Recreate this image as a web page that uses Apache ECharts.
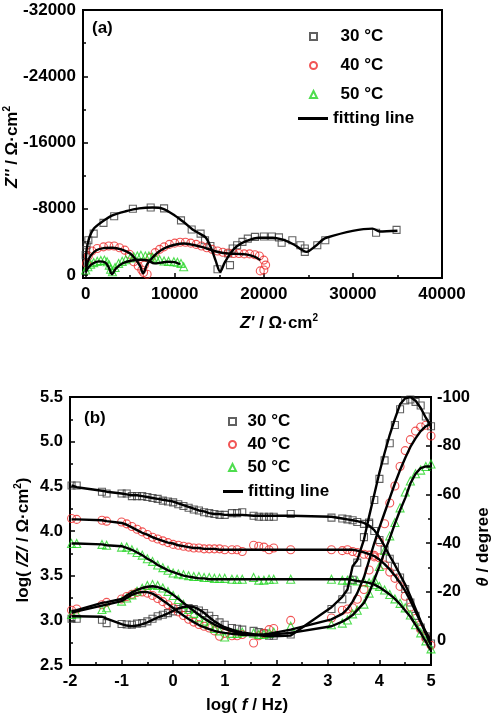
<!DOCTYPE html>
<html><head><meta charset="utf-8">
<script src="https://cdn.jsdelivr.net/npm/echarts@6/dist/echarts.min.js"></script>
<style>html,body{margin:0;padding:0;background:#fff}#c{width:496px;height:716px}</style>
</head><body><div id="c"></div>
<script>
// ---------- Panel (a): Nyquist ----------
const re30 = [0, 50, 100, 300, 900, 2000, 3200, 5300, 7300, 8800, 10700, 11900, 12900, 13400, 14000, 14800, 16200, 16000, 16500, 17000, 17600, 18200, 19000, 20000, 20900, 21700, 22000, 23200, 24100, 24600, 24600, 26000, 26900, 32600, 34900];
const im30 = [-2400, -3000, -3600, -4200, -5000, -6300, -7100, -8000, -8150, -8050, -6600, -5500, -5000, -4200, -3500, -700, -1200, -2600, -3200, -3600, -4000, -4400, -4600, -4650, -4650, -4550, -3900, -4200, -3600, -3200, -2800, -3600, -4200, -5100, -5450];
const fitRe30 = [0, 100, 400, 900, 1800, 3000, 4500, 6000, 7500, 8700, 10000, 11000, 12000, 12800, 13500, 14100, 14600, 15100, 15600, 16300, 17000, 18000, 19500, 21000, 22300, 23500, 24800, 25800, 27000, 32200, 33000, 35000];
const fitIm30 = [-1000, -3000, -4500, -5600, -6400, -7200, -7700, -8050, -8150, -8000, -7200, -6400, -5500, -5000, -4500, -3200, -1700, -400, -1500, -2700, -3500, -4100, -4500, -4500, -4200, -3600, -2800, -3500, -4500, -5600, -5250, -5350];

const re40 = [100, 300, 700, 1300, 2000, 2600, 3200, 3800, 4400, 4900, 5400, 5900, 6300, 6500, 6900, 6600, 7300, 7800, 8300, 8800, 9400, 10000, 10600, 11200, 11800, 12400, 13000, 13600, 14200, 14800, 15400, 16000, 16600, 17200, 17800, 18400, 19000, 19500, 20000, 20200, 20000, 19600];
const im40 = [-1400, -2300, -2900, -3200, -3400, -3500, -3500, -3300, -3000, -2500, -1600, -1100, -600, -300, -100, -1200, -2100, -2700, -3100, -3400, -3700, -3850, -3950, -3950, -3850, -3700, -3500, -3300, -3100, -2900, -2750, -2650, -2600, -2600, -2550, -2550, -2450, -2300, -1800, -1200, -600, -500];
const fitRe40 = [0, 200, 600, 1200, 2000, 3000, 4000, 5000, 5600, 6100, 6450, 6900, 7500, 8200, 9000, 10000, 11000, 12000, 13000, 14000, 15000, 16000, 17000, 18000, 19000, 19600];
const fitIm40 = [-300, -1500, -2400, -3000, -3250, -3300, -3100, -2600, -1900, -1100, -200, -1300, -2100, -2800, -3300, -3650, -3800, -3650, -3400, -3050, -2750, -2600, -2550, -2500, -2200, -1800];

const re50 = [0, 250, 550, 900, 1300, 1700, 2100, 2400, 2650, 2800, 3000, 3300, 3700, 4100, 4500, 5000, 5400, 5800, 6200, 6700, 7100, 7500, 7900, 8300, 8800, 9300, 9900, 10300, 10700, 11000];
const im50 = [-600, -1000, -1300, -1500, -1650, -1750, -1800, -1600, -1200, -700, -400, -900, -1400, -1650, -1850, -2050, -2200, -2300, -2400, -2300, -2300, -2150, -2000, -1850, -1700, -1650, -1600, -1550, -1400, -1000];
const fitRe50 = [0, 300, 800, 1500, 2200, 2600, 2950, 3400, 4200, 5200, 6200, 7000, 7700, 8500, 9200, 10000, 10600];
const fitIm50 = [-300, -900, -1400, -1650, -1500, -900, -100, -800, -1450, -1750, -1850, -1750, -1400, -1500, -1600, -1550, -1300];

const xTicksA = [0, 10000, 20000, 30000, 40000];
const xMinorA = [5000, 15000, 25000, 35000];
const yTicksA = [-32000, -24000, -16000, -8000, 0];
const yMinorA = [-28000, -20000, -12000, -4000];

// ---------- Panel (b): Bode ----------
const logF = [-1.97,-1.87,-1.38,-1.29,-1.0,-0.9,-0.8,-0.7,-0.6,-0.5,-0.4,-0.3,-0.2,-0.1,0.0,0.1,0.2,0.3,0.4,0.5,0.6,0.7,0.8,0.9,1.0,1.14,1.24,1.34,1.56,1.66,1.76,1.86,1.95,2.28,3.07,3.28,3.38,3.48,3.57,3.70,3.80,3.90,4.0,4.1,4.2,4.3,4.4,4.5,4.6,4.7,4.8,4.9,5.0];

const logZ30 = [4.51,4.51,4.44,4.42,4.42, 4.42,4.39,4.39,4.39,4.38,4.37,4.36,4.34,4.33,4.32, 4.30,4.28,4.26,4.24,4.23,4.21,4.20,4.19,4.18,4.18, 4.20,4.20,4.21, 4.17,4.16,4.16,4.16,4.16, 4.19, 4.15,4.14,4.13,4.12,4.10, 4.08,4.08,4.00, 3.90,3.79,3.69,3.60,3.48,3.35,3.20,3.05,2.92,2.82,2.74];
const theta30 = [-9.0,-9.0,-8.6,-7.2,-6.8, -6.6,-6.5,-7.0,-7.2,-7.9,-9.0,-10.0,-10.6,-11.3,-12.0, -13.0,-13.4,-13.4,-13.0,-12.4,-11.3,-10.2,-8.9,-7.5,-6.5, -5.2,-4.9,-4.5, -4.0,-3.5,-3.0,-2.0,-2.0, -2.5, -13.0,-17.0,-21.0,-25.0,-32.0, -42.5,-48.5,-57.7, -66.4,-74.0,-81.0,-88.5,-95.0,-98.6,-99.0,-98.0,-96.5,-92.0,-88.0];
const fitLogZ30 = [4.51,4.49,4.45,4.44,4.42, 4.41,4.40,4.40,4.39,4.38,4.37,4.36,4.35,4.34,4.33, 4.31,4.29,4.27,4.25,4.23,4.22,4.20,4.19,4.19,4.18, 4.18,4.18,4.18, 4.17,4.17,4.17,4.17,4.17, 4.17, 4.16,4.14,4.13,4.12,4.11, 4.09,4.06,4.01, 3.93,3.83,3.72,3.62,3.51,3.40,3.27,3.13,2.99,2.87,2.77];
const fitTheta30 = [-10.0,-10.0,-9.8,-9.0,-6.8, -6.2,-5.9,-6.2,-6.8,-7.5,-8.5,-9.5,-10.3,-11.2,-12.2, -13.2,-13.8,-14.1,-13.8,-12.8,-11.4,-9.6,-7.9,-6.6,-5.5, -4.5,-3.9,-3.4, -2.6,-2.3,-2.0,-1.8,-1.8, -2.1, -13.7,-18.0,-21.0,-30.5,-33.0, -41.5,-51.0,-60.0, -69.0,-77.0,-84.5,-91.0,-97.0,-99.5,-100.0,-98.5,-95.5,-91.5,-88.0];

const logZ40 = [4.14,4.13,4.12,4.11,4.10, 4.08,4.05,4.02,3.99,3.96,3.93,3.91,3.89,3.87,3.85, 3.84,3.83,3.82,3.81,3.81,3.80,3.80,3.80,3.80,3.79, 3.79,3.79,3.77, 3.84,3.83,3.82,3.79,3.81, 3.79, 3.79,3.78,3.79,3.77,3.76, 3.74,3.73,3.71, 3.70,3.62,3.54,3.47,3.38,3.27,3.15,3.02,2.90,2.80,2.72];
const theta40 = [-12.5,-13.0,-14.7,-15.7,-17.1, -18.1,-19.0,-19.8,-20.0,-19.5,-18.5,-17.3,-16.0,-14.7,-13.4, -11.8,-10.3,-8.8,-7.6,-6.6,-5.9,-5.2,-4.0,-1.8,-3.0, -2.0,-2.0,-2.5, 1.0,-2.0,-3.0,-4.5,-5.0, -8.3, -9.3,-12.5,-13.0,-13.5,-17.0, -21.0,-29.0,-35.0, -40.5,-48.0,-56.5,-63.5,-71.5,-78.0,-82.5,-86.0,-87.7,-88.4,-84.0];
const fitLogZ40 = [4.13,4.13,4.12,4.11,4.09, 4.07,4.04,4.01,3.98,3.96,3.93,3.91,3.89,3.87,3.86, 3.84,3.83,3.82,3.81,3.81,3.80,3.80,3.80,3.79,3.79, 3.79,3.79,3.79, 3.79,3.79,3.79,3.79,3.79, 3.79, 3.79,3.79,3.79,3.79,3.78, 3.76,3.74,3.72, 3.68,3.63,3.57,3.50,3.42,3.33,3.22,3.10,2.98,2.85,2.72];
const fitTheta40 = [-11.4,-12.0,-14.4,-14.8,-16.2, -17.5,-18.8,-19.6,-20.0,-19.9,-19.3,-18.0,-16.5,-15.0,-13.4, -11.8,-10.3,-8.9,-7.6,-6.4,-5.5,-4.7,-4.0,-3.5,-3.2, -2.8,-2.6,-2.4, -2.2,-2.3,-2.5,-2.8,-3.2, -4.5, -8.7,-11.0,-13.0,-16.0,-19.5, -26.0,-33.0,-40.0, -46.5,-52.5,-58.5,-64.5,-70.0,-75.0,-79.5,-83.0,-86.0,-88.0,-89.0];

const logZ50 = [3.86,3.86,3.85,3.84,3.82, 3.82,3.79,3.76,3.73,3.69,3.66,3.62,3.59,3.56,3.53, 3.52,3.51,3.50,3.49,3.49,3.48,3.48,3.47,3.47,3.47, 3.46,3.46,3.46, 3.48,3.45,3.45,3.46,3.46, 3.46, 3.46,3.45,3.45,3.45,3.44, 3.43,3.42,3.40, 3.38,3.34,3.29,3.24,3.19,3.14,3.06,2.95,2.86,2.77,2.68];
const theta50 = [-10.7,-11.0,-12.8,-13.5,-16.2, -17.5,-18.8,-20.3,-21.5,-22.6,-23.0,-22.6,-21.6,-20.2,-18.5, -16.9,-14.9,-12.8,-11.2,-9.4,-8.0,-6.5,-5.0,-4.0,-1.5, -3.0,-3.0,-3.5, -3.1,-2.5,-2.5,-3.0,-3.5, -5.9, -6.5,-7.2,-8.5,-11.0,-12.5, -15.0,-19.5,-25.0, -30.5,-37.0,-43.0,-48.5,-54.5,-61.0,-65.5,-68.5,-70.0,-71.5,-72.5];
const fitLogZ50 = [3.86,3.86,3.85,3.84,3.83, 3.81,3.79,3.76,3.73,3.69,3.66,3.62,3.59,3.56,3.54, 3.52,3.50,3.49,3.48,3.47,3.47,3.46,3.46,3.46,3.46, 3.46,3.46,3.46, 3.46,3.46,3.46,3.46,3.46, 3.46, 3.46,3.46,3.46,3.45,3.44, 3.43,3.42,3.40, 3.37,3.33,3.29,3.24,3.18,3.11,3.04,2.95,2.86,2.76,2.66];
const fitTheta50 = [-12.1,-12.5,-15.5,-15.8,-17.1, -18.5,-19.8,-20.8,-21.6,-22.1,-22.3,-22.0,-21.3,-20.2,-18.8, -17.2,-15.5,-13.8,-12.2,-10.6,-9.1,-7.8,-6.6,-5.6,-4.8, -3.9,-3.4,-3.0, -2.5,-2.4,-2.4,-2.5,-2.6, -3.2, -5.9,-7.8,-9.0,-10.5,-12.5, -15.5,-19.6,-25.0, -30.5,-36.5,-42.0,-48.0,-53.5,-58.5,-64.5,-68.5,-70.8,-71.5,-71.5];

const names = ['30 °C', '40 °C', '50 °C'];
const fitName = 'fitting line';

// ---------- styling ----------
const FONT = '"Liberation Sans", Arial, sans-serif';
const pair = (xs, ys) => xs.map((x, i) => [x, ys[i]]);
const markers = [
  {symbol: 'rect', icon: 'path://M0,0L10,0L10,10L0,10Z', size: 7, color: '#3a3a3a'},
  {symbol: 'circle', icon: 'circle', size: 8, color: '#ee2a2a'},
  {symbol: 'triangle', icon: 'path://M5,0L10,10L0,10Z', size: 8, color: '#22d422'}
];
const lblA = {color: '#000', fontSize: 17, fontWeight: 'bold', fontFamily: FONT};
const lblB = {color: '#000', fontSize: 16.5, fontWeight: 'bold', fontFamily: FONT};
const richBase = {
  i: {fontStyle: 'italic', fontWeight: 'bold', fontSize: 17, fontFamily: FONT, color: '#000'},
  n: {fontWeight: 'bold', fontSize: 17, fontFamily: FONT, color: '#000'},
  sup: {fontWeight: 'bold', fontSize: 10, fontFamily: FONT, color: '#000', verticalAlign: 'top', padding: [0, 0, 9, 0]},
  g6: {width: 6}, g7: {width: 7}, g18: {width: 18}, g32: {width: 32}, g33: {width: 33}
};
const nameStyle = () => ({fontSize: 17, fontWeight: 'bold', fontFamily: FONT, color: '#000', rich: richBase,
  align: 'center', verticalAlign: 'middle'});
const axLine = {show: true, onZero: false, lineStyle: {color: '#000', width: 2}};
const legText = {fontSize: 17, fontWeight: 'bold', fontFamily: FONT, color: '#000'};
const scatterLegend = () => names.map((n, k) => ({name: n, icon: markers[k].icon}));

function scatter(k, data, xi, yi) {
  const m = markers[k];
  return {type: 'scatter', name: names[k], xAxisIndex: xi, yAxisIndex: yi, data: data,
    symbol: m.symbol, symbolSize: m.size, z: 2,
    itemStyle: {color: 'rgba(255,255,255,0)', borderColor: m.color, borderWidth: 1.1}};
}
function fit(data, xi, yi, smooth) {
  return {type: 'line', name: fitName, xAxisIndex: xi, yAxisIndex: yi, data: data,
    symbol: 'none', showSymbol: false, smooth: smooth || false, z: 3,
    lineStyle: {color: '#000', width: 2.4}, itemStyle: {color: '#000'}};
}

const chart = echarts.init(document.getElementById('c'), null, {renderer: 'canvas'});
chart.setOption({
  animation: false,
  backgroundColor: '#fff',
  title: [
    {text: '(a)', left: 92, top: 20, padding: 0, textStyle: {fontSize: 17, fontWeight: 'bold', fontFamily: FONT, color: '#000'}},
    {text: '(b)', left: 84, top: 410, padding: 0, textStyle: {fontSize: 17, fontWeight: 'bold', fontFamily: FONT, color: '#000'}}
  ],
  grid: [
    {left: 83, top: 10, width: 359, height: 268, show: true, borderColor: '#000', borderWidth: 2, backgroundColor: 'transparent', outerBoundsMode: 'none', containLabel: false},
    {left: 70, top: 397, width: 361, height: 268, show: true, borderColor: '#000', borderWidth: 2, backgroundColor: 'transparent', outerBoundsMode: 'none', containLabel: false}
  ],
  legend: [
    {left: 309, top: 28, padding: 0, orient: 'vertical', itemWidth: 44, itemHeight: 7, itemGap: 12, symbolKeepAspect: true,
     data: scatterLegend(), textStyle: legText, selectedMode: false},
    {left: 298, top: 110, padding: 0, orient: 'vertical', itemWidth: 30, itemHeight: 3,
     data: [{name: fitName, icon: 'rect'}], textStyle: legText, selectedMode: false},
    {left: 228, top: 413, padding: 0, orient: 'vertical', itemWidth: 20, itemHeight: 7, itemGap: 6, symbolKeepAspect: true,
     data: scatterLegend(), textStyle: legText, selectedMode: false},
    {left: 223, top: 483, padding: 0, orient: 'vertical', itemWidth: 20, itemHeight: 3,
     data: [{name: fitName, icon: 'rect'}], textStyle: legText, selectedMode: false}
  ],
  xAxis: [
    {gridIndex: 0, type: 'value', min: -300, max: 40000, position: 'bottom', axisLine: axLine,
     axisTick: {show: true, inside: true, length: 5, lineStyle: {color: '#000', width: 1.5}, customValues: xTicksA},
     axisLabel: Object.assign({customValues: xTicksA, margin: 8, formatter: v => String(v)}, lblA),
     splitLine: {show: false},
     name: '{g33|}{i|Z\'} {n|/ Ω·cm}{sup|2}', nameLocation: 'middle', nameGap: 45, nameMoveOverlap: false, nameTextStyle: nameStyle()},
    {gridIndex: 0, type: 'value', min: -300, max: 40000, position: 'bottom', axisLine: {show: false, onZero: false},
     axisTick: {show: true, inside: true, length: 3, lineStyle: {color: '#000', width: 1.5}, customValues: xMinorA},
     axisLabel: {show: false}, splitLine: {show: false}},
    {gridIndex: 1, type: 'value', min: -2, max: 5, interval: 1, position: 'bottom', axisLine: axLine,
     axisTick: {show: true, inside: true, length: 5, lineStyle: {color: '#000', width: 1.5}},
     minorTick: {show: true, splitNumber: 2, length: 3, lineStyle: {color: '#000', width: 1.5}},
     axisLabel: Object.assign({margin: 8}, lblB), splitLine: {show: false}, minorSplitLine: {show: false},
     name: '{n|log(} {i|f} {n|/ Hz)}{g7|}', nameLocation: 'middle', nameGap: 40, nameMoveOverlap: false, nameTextStyle: nameStyle()}
  ],
  yAxis: [
    {gridIndex: 0, type: 'value', min: -32000, max: 360, inverse: true, position: 'left', axisLine: axLine,
     axisTick: {show: true, inside: true, length: 5, lineStyle: {color: '#000', width: 1.5}, customValues: yTicksA},
     axisLabel: Object.assign({customValues: yTicksA, margin: 7, formatter: v => String(v)}, lblA),
     splitLine: {show: false},
     name: '{i|Z\'\'} {n|/ Ω·cm}{sup|2}{g6|}', nameLocation: 'middle', nameRotate: 90, nameGap: 71, nameMoveOverlap: false, nameTextStyle: nameStyle()},
    {gridIndex: 0, type: 'value', min: -32000, max: 360, inverse: true, position: 'left', axisLine: {show: false, onZero: false},
     axisTick: {show: true, inside: true, length: 3, lineStyle: {color: '#000', width: 1.5}, customValues: yMinorA},
     axisLabel: {show: false}, splitLine: {show: false}},
    {gridIndex: 1, type: 'value', min: 2.5, max: 5.5, interval: 0.5, position: 'left', axisLine: axLine,
     axisTick: {show: true, inside: true, length: 5, lineStyle: {color: '#000', width: 1.5}},
     minorTick: {show: true, splitNumber: 2, length: 3, lineStyle: {color: '#000', width: 1.5}},
     axisLabel: Object.assign({margin: 7, formatter: v => v.toFixed(1)}, lblB), splitLine: {show: false},
     name: '{n|log( }{i|/Z/}{n| / Ω·cm}{sup|2}{n|)}{g18|}', nameLocation: 'middle', nameRotate: 90, nameGap: 47, nameMoveOverlap: false, nameTextStyle: nameStyle()},
    {gridIndex: 1, type: 'value', min: -100, max: 10, interval: 20, inverse: true, position: 'right', axisLine: axLine,
     axisTick: {show: true, inside: true, length: 5, lineStyle: {color: '#000', width: 1.5}},
     minorTick: {show: true, splitNumber: 2, length: 3, lineStyle: {color: '#000', width: 1.5}},
     axisLabel: Object.assign({margin: 6, showMaxLabel: false}, lblB), splitLine: {show: false},
     name: '{i|θ} {n|/ degree}{g32|}', nameLocation: 'middle', nameRotate: 90, nameGap: 52, nameMoveOverlap: false, nameTextStyle: nameStyle()}
  ],
  series: [
    scatter(0, pair(re30, im30), 0, 0),
    scatter(1, pair(re40, im40), 0, 0),
    scatter(2, pair(re50, im50), 0, 0),
    fit(pair(fitRe30, fitIm30), 0, 0, 0.3),
    fit(pair(fitRe40, fitIm40), 0, 0, 0.3),
    fit(pair(fitRe50, fitIm50), 0, 0, 0.3),
    scatter(0, pair(logF, logZ30), 2, 2),
    scatter(1, pair(logF, logZ40), 2, 2),
    scatter(2, pair(logF, logZ50), 2, 2),
    scatter(0, pair(logF, theta30), 2, 3),
    scatter(1, pair(logF, theta40), 2, 3),
    scatter(2, pair(logF, theta50), 2, 3),
    fit(pair(logF, fitLogZ30), 2, 2),
    fit(pair(logF, fitLogZ40), 2, 2),
    fit(pair(logF, fitLogZ50), 2, 2),
    fit(pair(logF, fitTheta30), 2, 3),
    fit(pair(logF, fitTheta40), 2, 3),
    fit(pair(logF, fitTheta50), 2, 3)
  ]
});
</script></body></html>
